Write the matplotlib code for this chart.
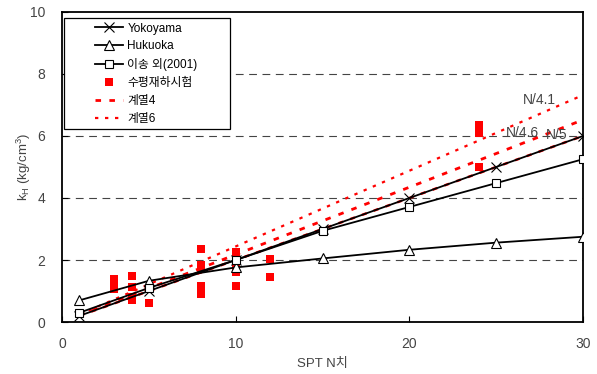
import matplotlib
matplotlib.use('Agg')
import matplotlib.pyplot as plt
from matplotlib.patches import Rectangle

plt.rcParams['font.family'] = ['Liberation Sans', 'Noto Sans CJK KR', 'DejaVu Sans']

# ── Data ───────────────────────────────────────────────────────────────
n_curve = [1, 5, 10, 15, 20, 25, 30]
yokoyama = [0.2, 1.0, 2.0, 3.0, 4.0, 5.0, 6.0]
hukuoka = [0.7, 1.33, 1.76, 2.05, 2.33, 2.56, 2.75]
lee = [0.3, 1.1, 2.0, 2.94, 3.71, 4.48, 5.25]

test_n = [3, 3, 3, 3, 4, 4, 4, 4, 5, 5, 8, 8, 8, 8, 8,
          10, 10, 10, 10, 10, 10, 12, 12, 24, 24, 24, 24]
test_k = [1.05, 1.2, 1.3, 1.4, 1.48, 1.14, 0.82, 0.72, 1.05, 0.6,
          2.35, 1.85, 1.75, 1.16, 0.9,
          2.25, 2.1, 1.95, 1.75, 1.6, 1.15, 2.02, 1.45,
          6.35, 6.2, 6.1, 5.0]

fit_n = [1, 30]
fit_41 = [0.24, 7.32]
fit_46 = [0.22, 6.52]
fit_5 = [0.2, 6.0]

fig = plt.figure(figsize=(5.97, 3.74), dpi=100)
ax = fig.add_axes([0.104, 0.139, 0.8725, 0.829])

for y in [2, 4, 6, 8]:
    ax.axhline(y, color='#444444', linestyle=(0, (7, 5)), linewidth=0.8, zorder=1)

ax.plot(n_curve, yokoyama, '-', marker='x', color='black', linewidth=1.3,
        markersize=6.5, mew=0.8, label='Yokoyama', zorder=4)
ax.plot(n_curve, hukuoka, '-', marker='^', color='black', linewidth=1.3,
        markersize=6.5, mfc='white', mew=0.8, label='Hukuoka', zorder=4)
ax.plot(n_curve, lee, '-', marker='s', color='black', linewidth=1.3,
        markersize=6, mfc='white', mew=0.8, label='이송 외(2001)', zorder=4)
ax.plot(test_n, test_k, 's', color='red', markersize=5.3, mew=0,
        label='수평재하시험', zorder=3)
ax.plot(fit_n, fit_46, color='red', linestyle=(0, (2, 3)), linewidth=2.0,
        label='계열4', zorder=2)
ax.plot(fit_n, fit_41, color='red', linestyle=(0, (1.5, 3)), linewidth=1.6,
        label='계열6', zorder=2)
ax.plot(fit_n, fit_5, color='red', linestyle=(0, (2, 3)), linewidth=1.8,
        label='_nolegend_', zorder=2)

ax.text(27.5, 7.15, 'N/4.1', fontsize=10, color='#444444', ha='center', va='center')
ax.text(26.5, 6.1, 'N/4.6', fontsize=10, color='#444444', ha='center', va='center')
ax.text(28.5, 6.03, 'N/5', fontsize=10, color='#444444', ha='center', va='center')

ax.set_xlim(0, 30)
ax.set_ylim(0, 10)
ax.set_xticks([0, 10, 20, 30])
ax.set_yticks([0, 2, 4, 6, 8, 10])
ax.tick_params(direction='in', length=4, labelsize=10, colors='black',
               labelcolor='#444444')
ax.tick_params(axis='x', pad=11)
ax.tick_params(axis='y', pad=12)
for s in ax.spines.values():
    s.set_linewidth(1.3)

ax.set_xlabel('SPT N치', fontsize=9.5, color='#444444')
ax.set_ylabel('k$_\\mathregular{H}$ (kg/cm$^\\mathregular{3}$)', fontsize=9.5,
              color='#444444')
ax.xaxis.set_label_coords(0.5, -0.115)
ax.yaxis.set_label_coords(-0.056, 0.5)

# legend frame (wide Excel-style box) drawn separately
ax.add_patch(Rectangle((0.004, 0.623), 0.319, 0.358, transform=ax.transAxes,
                       facecolor='white', edgecolor='black', linewidth=0.9,
                       zorder=5))
leg = ax.legend(loc='upper left', fontsize=8.5, frameon=False,
                borderpad=0, handlelength=2.4, labelspacing=0.5,
                handletextpad=0.35, borderaxespad=0,
                bbox_to_anchor=(0.063, 0.966))
leg.set_zorder(6)

fig.savefig('out.png', dpi=100)
